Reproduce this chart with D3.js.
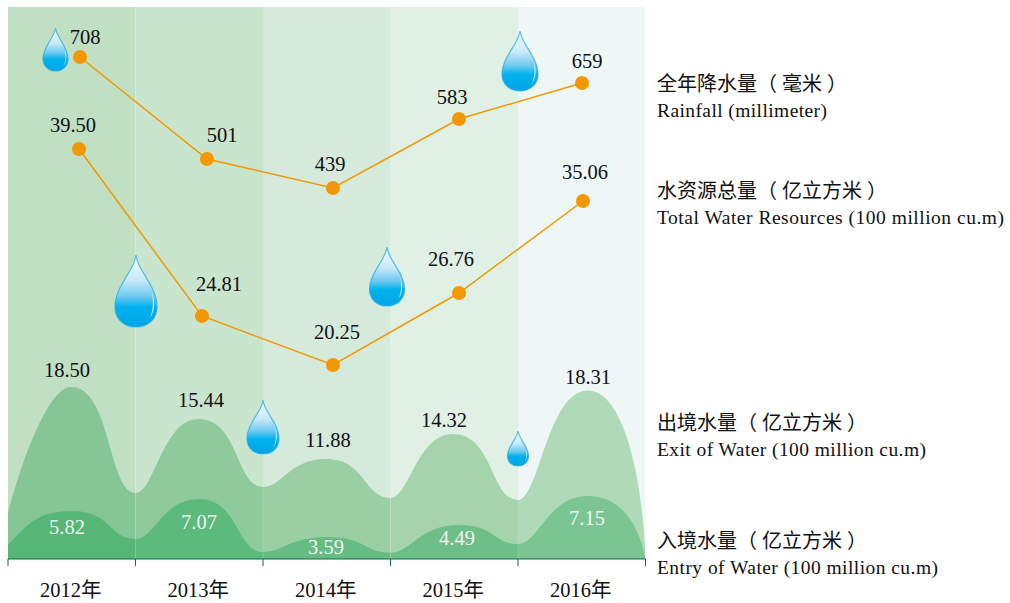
<!DOCTYPE html>
<html><head><meta charset="utf-8">
<script src="https://cdn.jsdelivr.net/npm/d3@7/dist/d3.min.js"></script>
<style>html,body{margin:0;padding:0;background:#fff}svg{display:block}
text{font-family:"Liberation Serif","Noto Sans CJK SC",serif;fill:#111}</style></head><body>
<script>
// ---- data ----
const years=["2012年","2013年","2014年","2015年","2016年"];
const rainfall=[708,501,439,583,659];
const totalWater=[39.50,24.81,20.25,26.76,35.06];
const exitWater=[18.50,15.44,11.88,14.32,18.31];
const entryWater=[5.82,7.07,3.59,4.49,7.15];
// curve levels at the year boundaries (six edges)
const exitEdges=[5.63,7.53,8.3,7.1,6.97,0];
const entryEdges=[2.28,3.26,1.14,1.03,2.45,0];
const legendCN=["全年降水量（ 毫米 ）","水资源总量（ 亿立方米 ）","出境水量（ 亿立方米 ）","入境水量（ 亿立方米 ）"];
const legendEN=["Rainfall (millimeter)","Total Water Resources (100 million cu.m)","Exit of Water (100 million cu.m)","Entry of Water (100 million cu.m)"];
// ---- style ----
const bandColors=["#c0dfc3","#cae5ce","#d5eadb","#e0f0e5","#eef7f5"];
const exitColors=["#85c596","#8fca9c","#9acea3","#a4d3ac","#b0d9b7"];
const entryColors=["#55b676","#5cba7d","#66bc82","#6ebe88","#7ac592"];
const W=1010,H=603,base=559,top0=7;
const svg=d3.select("body").append("svg").attr("width",W).attr("height",H);
const defs=svg.append("defs");
// ---- scales ----
const xBand=d3.scaleBand().domain(years).range([8,645.5]);
const edgeX=i=>8+i*xBand.step();
const xPeakExit=d3.scaleOrdinal().domain(years).range([71,199,326,453,588]);
const xPeakEntry=d3.scaleOrdinal().domain(years).range([72,199,327,459,588]);
const xRain=d3.scaleOrdinal().domain(years).range([80,207,333,459,582]);
const xTotal=d3.scaleOrdinal().domain(years).range([79,202,333,459,583]);
const yRain=d3.scaleLinear().domain([439,501,583,659,708]).range([188,159,119,83,57]);
const yTotal=d3.scaleLinear().domain([20.25,24.81,26.76,35.06,39.5]).range([365,316,293,201,149]);
const yLow=d3.scaleLinear()
  .domain([0,3.59,4.49,5.82,7.07,7.15,11.88,14.32,15.44,18.31,18.5])
  .range([559,537,525,511,499,496,459,434,419,390.5,387]);
// ---- bands ----
svg.selectAll("rect.band").data(years).join("rect").attr("class","band")
  .attr("x",d=>xBand(d)).attr("y",top0).attr("width",xBand.step()).attr("height",base-top0)
  .attr("fill",(d,i)=>bandColors[i]);
// ---- areas: domes at the year values, narrow troughs at the year boundaries ----
function areaPath(vals,edges,xp,start,end){
  const p=d3.path(), aUp=.58, bUp=.3, aDn=.62, bDn=.42;
  p.moveTo(edgeX(0),base); p.lineTo(edgeX(0),yLow(edges[0]));
  vals.forEach((v,i)=>{
    const px=xp(years[i]), py=yLow(v), lx=edgeX(i), ly=yLow(edges[i]);
    const rx=edgeX(i+1), ry=yLow(edges[i+1]);
    if(i===0) p.bezierCurveTo(lx+(px-lx)*start[0],ly-start[1],px-(px-lx)*start[2],py,px,py);
    else p.bezierCurveTo(lx+(px-lx)*bUp,ly,px-(px-lx)*aUp,py,px,py);
    if(i===4) p.bezierCurveTo(px+(rx-px)*aDn,py,rx-(rx-px)*end[0],ry-end[1],rx,ry);
    else p.bezierCurveTo(px+(rx-px)*aDn,py,rx-(rx-px)*bDn,ry,rx,ry);
  });
  p.lineTo(edgeX(5),base); p.closePath();
  return p.toString();
}
years.forEach((y,i)=>{
  defs.append("clipPath").attr("id","c"+i).append("rect")
    .attr("x",xBand(y)).attr("y",top0).attr("width",xBand.step()).attr("height",base-top0);
});
[[exitWater,exitEdges,xPeakExit,exitColors,[.27,63,.33],[.04,80]],[entryWater,entryEdges,xPeakEntry,entryColors,[.3,20,.55],[.1,30]]].forEach(([v,e,xp,cols,st,en])=>{
  const d=areaPath(v,e,xp,st,en);
  years.forEach((y,i)=>svg.append("path").attr("d",d).attr("fill",cols[i]).attr("clip-path",`url(#c${i})`));
});
// faint separators inside the areas
svg.selectAll("line.sep").data(d3.range(1,5)).join("line").attr("class","sep")
  .attr("x1",edgeX).attr("x2",edgeX).attr("y1",i=>yLow(exitEdges[i])).attr("y2",base)
  .attr("stroke","#fff").attr("stroke-opacity",.15);
// ---- axis ----
const axisG=svg.append("g");
axisG.append("line").attr("x1",8).attr("x2",645.5).attr("y1",base).attr("y2",base).attr("stroke","#0f6b42").attr("stroke-width",1.2);
axisG.selectAll("line.t").data(d3.range(0,6)).join("line").attr("class","t")
  .attr("x1",edgeX).attr("x2",edgeX).attr("y1",base).attr("y2",base+7).attr("stroke","#0f6b42").attr("stroke-width",1);
axisG.selectAll("text").data(years).join("text")
  .attr("x",d=>xBand(d)+xBand.bandwidth()/2-1).attr("y",597).attr("text-anchor","middle")
  .attr("font-size",20.5).text(d=>d);
// ---- lines ----
const orange="#f39800";
[[rainfall,xRain,yRain],[totalWater,xTotal,yTotal]].forEach(([v,xs,ys])=>{
  const pts=v.map((d,i)=>[xs(years[i]),ys(d)]);
  svg.append("path").attr("d",d3.line()(pts)).attr("fill","none").attr("stroke",orange).attr("stroke-width",1.5);
  svg.selectAll(null).data(pts).join("circle").attr("cx",d=>d[0]).attr("cy",d=>d[1]).attr("r",7).attr("fill",orange);
});
// ---- value labels (text, offset from mark) ----
const fmt2=d3.format(".2f");
function labels(vals,xf,yf,off,fmt,color){
  svg.selectAll(null).data(vals).join("text")
    .attr("x",(d,i)=>xf(years[i])+off[i][0]).attr("y",(d,i)=>yf(d)+off[i][1])
    .attr("text-anchor","middle").attr("font-size",20.5)
    .style("fill",color).text(fmt);
}
labels(rainfall,xRain,yRain,[[5,-13],[15,-17],[-3,-17],[-7,-15],[5,-15]],d=>d,"#111");
labels(totalWater,xTotal,yTotal,[[-6,-17],[17,-25],[4,-26],[-8,-27],[2,-22]],fmt2,"#111");
labels(exitWater,xPeakExit,yLow,[[-4,-10],[2,-12],[2,-12],[-9,-7],[0,-7]],fmt2,"#111");
labels(entryWater,xPeakEntry,yLow,[[-5,23],[0,30],[-1,17],[-2,20],[-1,29]],fmt2,"rgba(255,255,255,.92)");
// ---- legend ----
const legendY=[91,198,430,548];
const legendWidths=[170,347,269,281];
legendCN.forEach((t,i)=>{
  svg.append("text").attr("x",657).attr("y",legendY[i]).attr("font-size",20).text(t);
  svg.append("text").attr("x",657).attr("y",legendY[i]+25.5).attr("font-size",19.5)
    .attr("textLength",legendWidths[i]).attr("lengthAdjust","spacing").text(legendEN[i]);
});
// ---- drops ----
const g=defs.append("linearGradient").attr("id","drop").attr("x1",0).attr("x2",0).attr("y1",0).attr("y2",1);
[[0,"#f0faff"],[.35,"#c8e9f9"],[.58,"#6cc9f0"],[.72,"#00b2ef"],[1,"#00a5e6"]].forEach(s=>g.append("stop").attr("offset",s[0]).attr("stop-color",s[1]));
const dropPath="M0 0C3 32 50 62 50 104C50 129 28 145 0 145C-28 145 -50 129 -50 104C-50 62 -3 32 0 0Z";
const hl="M38 76C46 92 46 114 32 128C41 114 42 94 38 76Z";
const drops=[[55.5,28,25,43],[136,255,42,72],[263,400,32,54],[387,247,35,59],[518,431,21,35],[520,31,36,60]];
drops.forEach(([cx,ty,w,h])=>{
  const dg=svg.append("g").attr("transform",`translate(${cx},${ty}) scale(${w/100},${h/145})`);
  dg.append("path").attr("d",dropPath).attr("fill","url(#drop)").attr("stroke","#29abe2").attr("stroke-width",1.2).attr("vector-effect","non-scaling-stroke").attr("stroke-opacity",.75);
  dg.append("path").attr("d",hl).attr("fill","#fff").attr("fill-opacity",.7);
});
</script></body></html>
